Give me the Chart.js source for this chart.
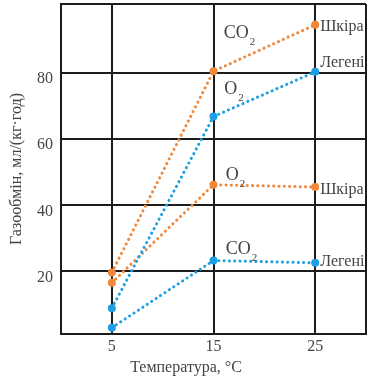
<!DOCTYPE html>
<html>
<head>
<meta charset="utf-8">
<script src="https://cdn.jsdelivr.net/npm/chart.js@4.4.1/dist/chart.umd.min.js"></script>
<style>
  html, body { margin: 0; padding: 0; background: #fff; }
  #wrap { width: 374px; height: 381px; }
</style>
</head>
<body>
<div id="wrap"><canvas id="c" width="374" height="381"></canvas></div>
<script>
// ---- data ----
const temperatures = [5, 15, 25];
const skinCO2 = [19.6, 80.4, 94.4];
const lungO2 = [8.8, 66.7, 80.2];
const skinO2 = [16.5, 46.1, 45.4];
const lungCO2 = [2.9, 23.2, 22.5];
const xTicks = [5, 15, 25];
const yTicks = [20, 40, 60, 80];
const organLabels = ['Шкіра', 'Легені', 'Шкіра', 'Легені'];
const gasLabels = [['CO', '2'], ['O', '2'], ['O', '2'], ['CO', '2']];
const xTitle = 'Температура, °C';
const yTitle = 'Газообмін, мл/(кг·год)';

const X_MIN = 0, X_MAX = 30, Y_MIN = 1, Y_MAX = 100.7;
const ORANGE = '#F0883A';
const BLUE = '#1E9FE3';
const TEXT = '#444444';
const FONT = '"Liberation Serif", "DejaVu Serif", serif';

// annotation anchors (data coords) for labels
const gasAnchors = [[16.0, 91.8], [16.05, 75.0], [16.2, 48.9], [16.2, 26.6]];
const organAnchors = [[25, 93.9], [25, 82.9], [25, 44.7], [25, 22.7]];

function ds(values, color) {
  return {
    data: temperatures.map((t, i) => ({ x: t, y: values[i] })),
    borderColor: color,
    backgroundColor: color,
    pointBackgroundColor: color,
    pointBorderWidth: 0,
    pointRadius: 4,
    borderWidth: 3,
    borderDash: [0.1, 5.2],
    borderCapStyle: 'round',
    tension: 0,
  };
}

const labelPlugin = {
  id: 'labels',
  afterDatasetsDraw(chart) {
    const { ctx, scales: { x, y }, chartArea } = chart;
    ctx.save();
    ctx.fillStyle = TEXT;
    ctx.textBaseline = 'middle';
    ctx.textAlign = 'left';
    gasLabels.forEach((g, i) => {
      const px = x.getPixelForValue(gasAnchors[i][0]);
      const py = y.getPixelForValue(gasAnchors[i][1]);
      ctx.font = '18px ' + FONT;
      ctx.fillText(g[0], px, py);
      const w = ctx.measureText(g[0]).width;
      ctx.font = '11px ' + FONT;
      ctx.fillText(g[1], px + w + 1, py + 9);
    });
    ctx.font = '16px ' + FONT;
    organLabels.forEach((t, i) => {
      const px = x.getPixelForValue(organAnchors[i][0]) + 5;
      const py = y.getPixelForValue(organAnchors[i][1]);
      ctx.fillText(t, px, py);
    });
    ctx.font = '16px ' + FONT;
    ctx.textAlign = 'center';
    ctx.fillText(xTitle, 186, 368);
    ctx.save();
    ctx.translate(17, (chartArea.top + chartArea.bottom) / 2);
    ctx.rotate(-Math.PI / 2);
    ctx.fillText(yTitle, 0, 0);
    ctx.restore();
    ctx.restore();
  }
};

new Chart(document.getElementById('c'), {
  type: 'line',
  data: {
    datasets: [
      ds(skinCO2, ORANGE),
      ds(lungO2, BLUE),
      ds(skinO2, ORANGE),
      ds(lungCO2, BLUE),
    ]
  },
  options: {
    responsive: false,
    animation: false,
    devicePixelRatio: 1,
    layout: { padding: { top: 3, right: 8, left: 0, bottom: 0 } },
    plugins: { legend: { display: false }, tooltip: { enabled: false } },
    scales: {
      x: {
        type: 'linear',
        min: X_MIN, max: X_MAX,
        afterBuildTicks(s) { s.ticks = [X_MIN, ...xTicks, X_MAX].map(v => ({ value: v })); },
        afterFit(s) { s.height = 47; s.paddingLeft = 0; s.paddingRight = 0; },
        ticks: {
          autoSkip: false,
          maxRotation: 0,
          color: TEXT,
          font: { family: FONT, size: 16 },
          padding: 3,
          callback: v => (xTicks.includes(v) ? String(v) : ''),
        },
        grid: { color: '#1c1c1c', lineWidth: 2, drawTicks: false },
        border: { color: '#1c1c1c', width: 2 },
      },
      y: {
        type: 'linear',
        min: Y_MIN, max: Y_MAX,
        afterBuildTicks(s) { s.ticks = [Y_MIN, ...yTicks, Y_MAX].map(v => ({ value: v })); },
        afterFit(s) { s.width = 61; s.paddingTop = 0; s.paddingBottom = 0; },
        ticks: {
          autoSkip: false,
          color: TEXT,
          font: { family: FONT, size: 16, lineHeight: 0.8 },
          padding: 8,
          callback: v => (yTicks.includes(v) ? ['', String(v)] : ''),
        },
        grid: { color: '#1c1c1c', lineWidth: 2, drawTicks: false },
        border: { color: '#1c1c1c', width: 2 },
      }
    }
  },
  plugins: [labelPlugin]
});
</script>
</body>
</html>
